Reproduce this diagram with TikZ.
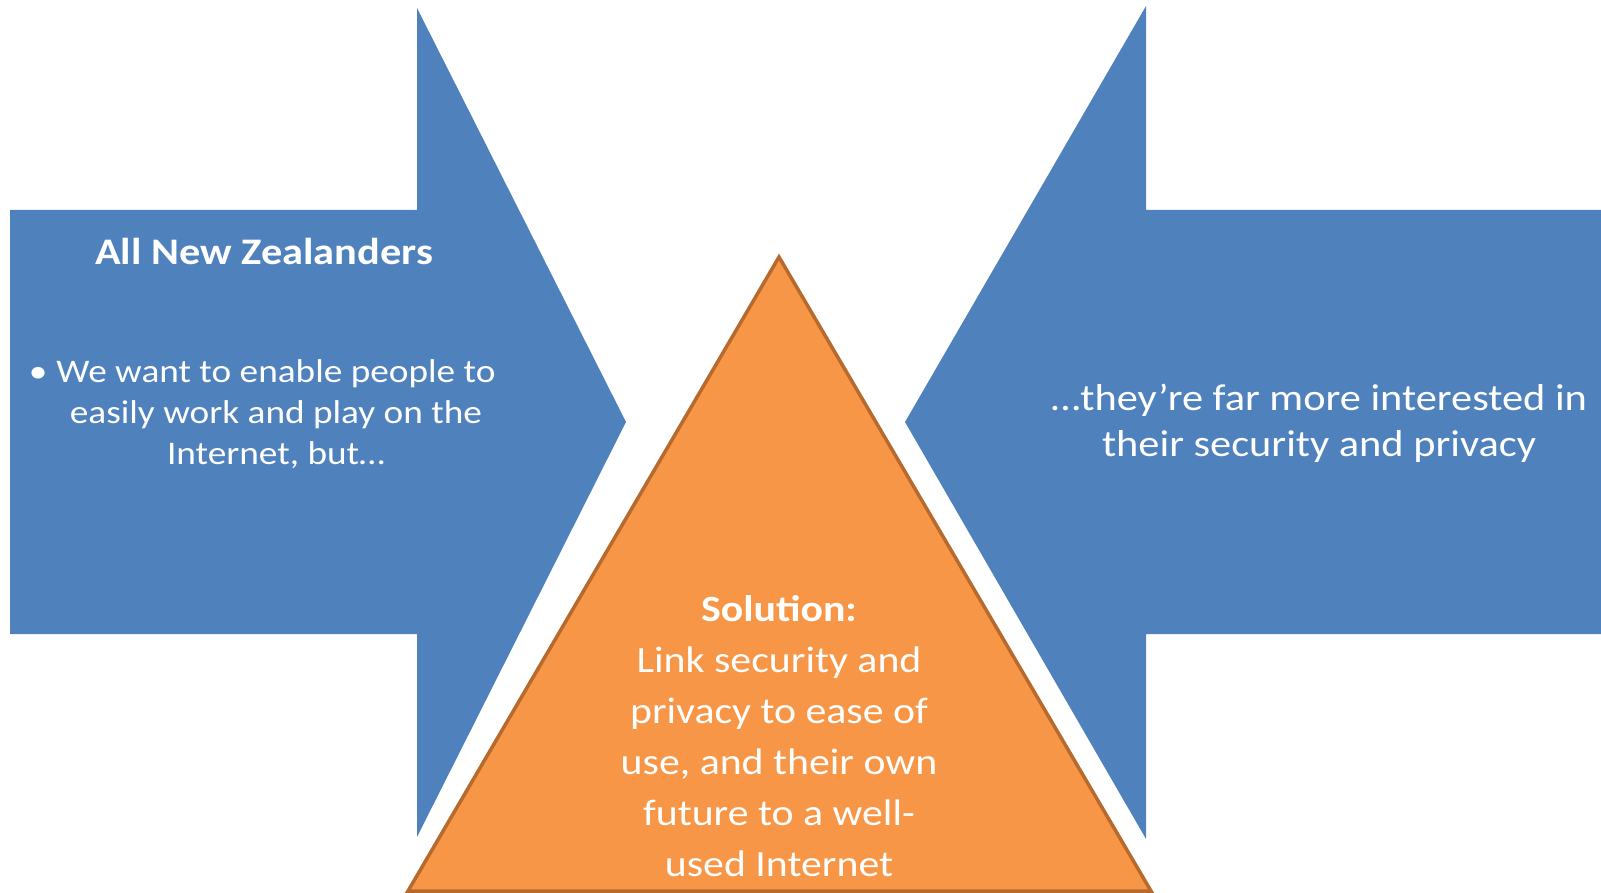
\documentclass[tikz,border=0pt]{standalone}
\usepackage{fontspec}
\setmainfont[FakeStretch=1.13]{Carlito}
\definecolor{arrowblue}{HTML}{4F81BD}
\definecolor{solorange}{HTML}{F79646}
\definecolor{soledge}{HTML}{B66A2E}
\tikzset{
  bluearrow/.style={fill=arrowblue, draw=none},
  soltri/.style={fill=solorange, draw=soledge, line width=3.5pt, line join=miter},
  wtext/.style={text=white, align=center, inner sep=0pt},
}
\begin{document}
\begin{tikzpicture}[x=1pt,y=-1pt]
\useasboundingbox (0,0) rectangle (1601,893);
% left arrow
\path[bluearrow] (10,210) -- (417,210) -- (417,8) -- (626,422) -- (417,837) -- (417,634) -- (10,634) -- cycle;
% right arrow
\path[bluearrow] (1601,210) -- (1146,210) -- (1146,6) -- (905,422) -- (1146,839) -- (1146,634) -- (1601,634) -- cycle;
% triangle
\path[soltri] (779,257) -- (1151,891) -- (408,891) -- cycle;
% texts
\node[wtext, font=\fontsize{37.5}{45}\selectfont\bfseries] (title) at (264,251) {All New Zealanders};
\node[wtext, font=\fontsize{33}{41}\selectfont] (left) at (276,414) {\llap{•\hspace{9pt}}We want to enable people to\\easily work and play on the\\Internet, but…};
\node[wtext, font=\fontsize{37.5}{46}\selectfont] (right) at (1319,423) {…they’re far more interested in\\their security and privacy};
\node[wtext, font=\fontsize{37}{51}\selectfont] (sol) at (779,736) {\textbf{Solution:}\\Link security and\\privacy to ease of\\use, and their own\\future to a well-\\used Internet};
\end{tikzpicture}
\end{document}
